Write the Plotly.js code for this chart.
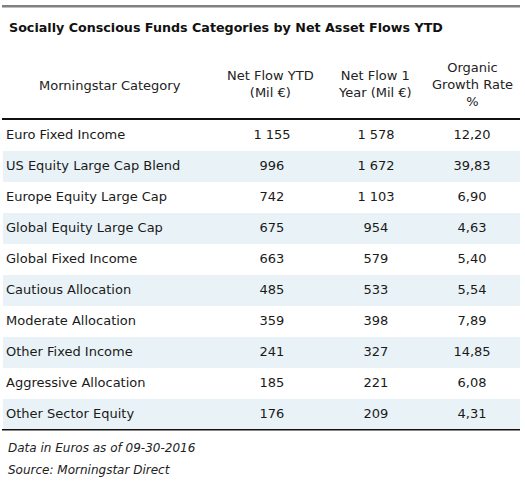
<!DOCTYPE html>
<html><head><meta charset="utf-8">
<script src="https://cdn.plot.ly/plotly-3.0.1.min.js"></script>
<style>html,body{margin:0;padding:0;background:#fff}#c{width:525px;height:482px}</style>
</head><body><div id="c"></div>
<script>
const title = "Socially Conscious Funds Categories by Net Asset Flows YTD";
const headers = ["Morningstar Category", "Net Flow YTD<br>(Mil €)", "Net Flow 1<br>Year (Mil €)", "Organic<br>Growth Rate<br>%"];
const categories = ["Euro Fixed Income","US Equity Large Cap Blend","Europe Equity Large Cap","Global Equity Large Cap","Global Fixed Income","Cautious Allocation","Moderate Allocation","Other Fixed Income","Aggressive Allocation","Other Sector Equity"];
const netFlowYTD = ["1 155","996","742","675","663","485","359","241","185","176"];
const netFlow1Y = ["1 578","1 672","1 103","954","579","533","398","327","221","209"];
const growthRate = ["12,20","39,83","6,90","4,63","5,40","5,54","7,89","14,85","6,08","4,31"];
const footnotes = ["Data in Euros as of 09-30-2016", "Source: Morningstar Direct"];

const font = "DejaVu Sans, Verdana, sans-serif";
const txt = "#1a1a1a";
const rowTop = 120, rowH = 31;
const rowY = categories.map((_, i) => rowTop + rowH * i + rowH / 2);
const colX = [6, 272, 376, 472];

const traces = [];
traces.push({type:"scatter", mode:"text", x: categories.map(() => colX[0]), y: rowY, text: categories,
  textposition:"middle right", textfont:{family:font, size:13, color:txt}, hoverinfo:"skip"});
[[netFlowYTD,1],[netFlow1Y,2],[growthRate,3]].forEach(([arr, c]) => {
  traces.push({type:"scatter", mode:"text", x: arr.map(() => colX[c]), y: rowY, text: arr,
    textposition:"middle center", textfont:{family:font, size:13, color:txt}, hoverinfo:"skip"});
});

const shapes = [];
categories.forEach((_, i) => {
  if (i % 2 === 1) shapes.push({type:"rect", xref:"x", yref:"y", x0:3, x1:520, y0:rowTop + rowH*i, y1:rowTop + rowH*(i+1), fillcolor:"#e9f3f7", line:{width:0}, layer:"below"});
});
function hrule(y, h, color) {
  shapes.push({type:"rect", xref:"x", yref:"y", x0:2, x1:520, y0:y, y1:y + h, fillcolor:color, line:{width:0}, layer:"above"});
}
hrule(5, 2.5, "#808080");
hrule(118, 2, "#111111");
hrule(429, 1.5, "#111111");

const annotations = [];
annotations.push({xref:"x", yref:"y", x:7, y:27, text:"<b>"+title+"</b>", showarrow:false, xanchor:"left", yanchor:"middle", font:{family:font, size:12.7, color:"#111"}});
const headerX = [110, 270, 375, 472];
const headerY = [85, 84, 84, 84];
headers.forEach((h, c) => {
  annotations.push({xref:"x", yref:"y", x: headerX[c], y: headerY[c], text:h, showarrow:false, xanchor:"center", yanchor:"middle", align:"center", font:{family:font, size:13, color:"#222"}});
});
footnotes.forEach((f, i) => {
  annotations.push({xref:"x", yref:"y", x:6, y:448 + 22*i, text:"<i>"+f+"</i>", showarrow:false, xanchor:"left", yanchor:"middle", font:{family:font, size:12, color:"#222"}});
});

Plotly.newPlot("c", traces, {
  width:525, height:482, margin:{l:0,r:0,t:0,b:0}, showlegend:false,
  paper_bgcolor:"#fff", plot_bgcolor:"#fff",
  xaxis:{range:[0,525], visible:false, fixedrange:true},
  yaxis:{range:[482,0], visible:false, fixedrange:true},
  shapes, annotations
}, {staticPlot:true});
</script></body></html>
